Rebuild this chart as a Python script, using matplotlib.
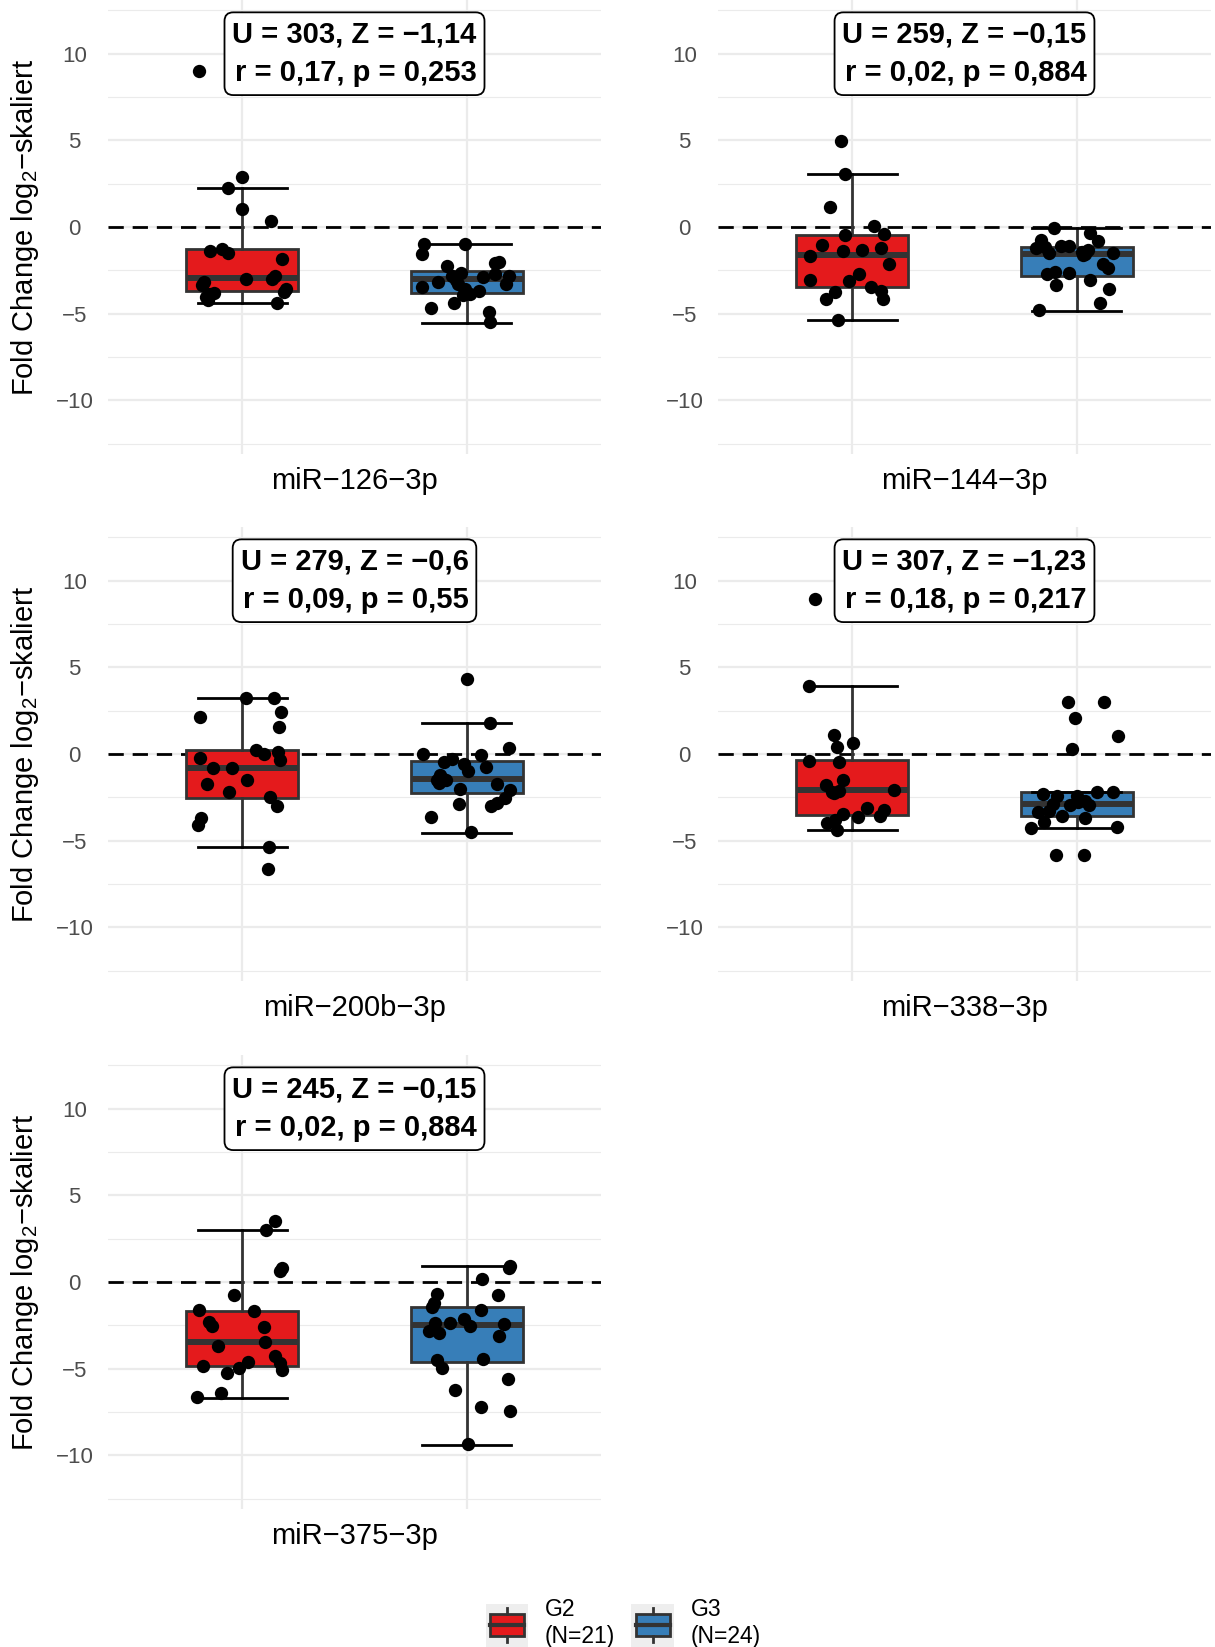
import numpy as np
import matplotlib
matplotlib.use('Agg')
import matplotlib.pyplot as plt
from matplotlib.patches import Rectangle, Patch
from matplotlib.lines import Line2D
from matplotlib.legend_handler import HandlerBase

plt.rcParams['font.family'] = ['Liberation Sans', 'DejaVu Sans']
plt.rcParams['mathtext.fontset'] = 'custom'
plt.rcParams['mathtext.rm'] = 'Liberation Sans'
plt.rcParams['mathtext.it'] = 'Liberation Sans:italic'
plt.rcParams['mathtext.default'] = 'regular'

# panels (x axis title) and test statistics
mirnas = ['miR\u2212126\u22123p', 'miR\u2212144\u22123p', 'miR\u2212200b\u22123p',
          'miR\u2212338\u22123p', 'miR\u2212375\u22123p']
u_vals = ['303', '259', '279', '307', '245']
z_vals = ['\u22121,14', '\u22120,15', '\u22120,6', '\u22121,23', '\u22120,15']
r_vals = ['0,17', '0,02', '0,09', '0,18', '0,02']
p_vals = ['0,253', '0,884', '0,55', '0,217', '0,884']

groups = ['G2\n(N=21)', 'G3\n(N=24)']
colors = ['#E41A1C', '#377EB8']

# boxplot statistics per panel
g2_lo  = [-4.37, -5.37, -5.38, -4.37, -6.67]
g2_q1  = [-3.69, -3.44, -2.52, -3.50, -4.87]
g2_med = [-2.92, -1.64, -0.81, -2.06, -3.48]
g2_q3  = [-1.29, -0.48, 0.25, -0.33, -1.65]
g2_hi  = [2.23, 3.03, 3.23, 3.90, 2.98]

g3_lo  = [-5.52, -4.83, -4.54, -4.27, -9.38]
g3_q1  = [-3.79, -2.84, -2.25, -3.60, -4.62]
g3_med = [-2.98, -1.54, -1.44, -2.88, -2.46]
g3_q3  = [-2.54, -1.14, -0.42, -2.19, -1.44]
g3_hi  = [-1.00, -0.04, 1.81, -2.17, 0.94]

# individual fold changes and their horizontal jitter
fc_126_g2 = [9.0, 2.88, 2.23, 1.06, 0.33, -1.37, -1.25, -1.5, -1.85, -3.0, -3.17,
             -3.0, -2.85, -3.79, -4.04, -4.23, -3.56, -3.75, -4.37, -3.37, -3.88]
jit_126_g2 = [-0.194, 0.0, -0.064, -0.004, 0.128, -0.145, -0.093, -0.063, 0.176, 0.018, -0.172,
              0.134, 0.146, -0.125, -0.161, -0.152, 0.194, 0.185, 0.154, -0.179, -0.149]
fc_126_g3 = [-1.0, -1.54, -1.0, -2.27, -2.02, -2.08, -2.65, -2.88, -2.81, -3.27, -2.69, -3.15,
             -2.85, -3.48, -3.27, -3.56, -3.85, -3.69, -3.94, -4.38, -4.67, -4.92, -5.5, -3.08]
jit_126_g3 = [-0.191, -0.2, -0.006, -0.085, 0.143, 0.125, -0.025, 0.072, 0.19, 0.175, 0.128, -0.127,
              -0.066, -0.199, -0.037, -0.007, 0.015, 0.054, -0.015, -0.055, -0.157, 0.1, 0.104, -0.045]

fc_144_g2 = [4.96, 3.03, 1.16, 0.06, -0.39, -0.48, -1.02, -1.66, -1.39, -1.35, -1.22,
             -2.12, -3.03, -3.09, -2.70, -3.44, -3.73, -4.17, -3.71, -4.15, -5.37]
jit_144_g2 = [-0.05, -0.035, -0.098, 0.097, 0.141, -0.032, -0.138, -0.189, -0.043, 0.041, 0.129,
              0.162, -0.189, -0.016, 0.028, 0.082, -0.079, -0.119, 0.129, 0.135, -0.065]
fc_144_g3 = [-0.04, -0.35, -0.83, -0.77, -1.22, -1.51, -1.12, -1.12, -1.45, -1.58, -1.51, -2.12,
             -2.36, -2.74, -2.61, -2.66, -3.05, -3.32, -3.57, -4.38, -4.81, -1.64, -1.16, -1.35]
jit_144_g3 = [-0.1, 0.059, 0.095, -0.157, -0.179, -0.125, -0.069, -0.032, 0.025, 0.037, 0.164, 0.119,
              0.142, -0.132, -0.095, -0.032, 0.062, -0.092, 0.144, 0.103, -0.166, 0.03, -0.14, 0.05]

fc_200b_g2 = [3.23, 3.23, 2.12, 2.40, 1.58, 0.25, 0.02, 0.12, -0.33, -0.23, -0.81,
              -0.83, -1.71, -1.52, -2.21, -2.48, -3.02, -3.67, -4.10, -5.37, -6.65]
jit_200b_g2 = [0.018, 0.142, -0.191, 0.17, 0.164, 0.06, 0.097, 0.157, 0.166, -0.191, -0.133,
               -0.048, -0.157, 0.019, -0.058, 0.122, 0.154, -0.187, -0.2, 0.119, 0.115]
fc_200b_g3 = [4.31, 1.81, 0.35, 0.02, -0.04, -0.27, -0.46, -0.56, -1.0, -0.75, -1.19, -1.48,
              -1.44, -1.52, -1.67, -1.71, -2.0, -2.10, -2.56, -2.83, -3.02, -2.90, -3.65, -4.52]
jit_200b_g3 = [0.003, 0.104, 0.19, -0.194, 0.064, -0.063, -0.101, -0.01, 0.007, 0.087, -0.119, -0.131,
               -0.104, -0.09, -0.122, 0.134, -0.03, 0.194, 0.172, 0.134, 0.107, -0.033, -0.157, 0.018]

fc_338_g2 = [8.96, 3.90, 1.10, 0.38, 0.65, -0.38, -0.46, -1.77, -1.52, -2.19, -2.12,
             -2.06, -3.46, -3.13, -3.65, -3.25, -3.60, -3.98, -3.79, -4.37, -2.25]
jit_338_g2 = [-0.169, -0.194, -0.081, -0.071, 0.001, -0.194, -0.06, -0.118, -0.04, -0.09, -0.062,
              0.184, -0.044, 0.063, 0.026, 0.14, 0.122, -0.115, -0.078, -0.069, -0.081]
fc_338_g3 = [2.98, 2.98, 2.06, 1.06, 0.29, -2.31, -2.44, -2.44, -2.17, -2.19, -2.87, -2.94,
             -2.69, -2.92, -3.33, -3.27, -3.60, -3.67, -3.94, -4.29, -4.23, -5.81, -5.81, -2.79]
jit_338_g3 = [-0.04, 0.122, -0.007, 0.184, -0.019, -0.151, -0.088, 0.0, 0.091, 0.162, -0.105, -0.029,
              0.037, 0.056, -0.172, -0.125, -0.066, 0.037, -0.144, -0.204, 0.179, -0.091, 0.034, 0.007]

fc_375_g2 = [3.5, 3.0, 0.79, 0.62, -0.75, -1.62, -1.67, -2.29, -2.52, -2.62, -3.71,
             -3.48, -4.25, -4.69, -5.06, -4.87, -4.62, -4.94, -5.25, -6.42, -6.65]
jit_375_g2 = [0.145, 0.107, 0.176, 0.167, -0.036, -0.193, 0.052, -0.149, -0.137, 0.097, -0.107,
              0.101, 0.146, 0.167, 0.176, -0.175, 0.024, -0.015, -0.07, -0.097, -0.201]
fc_375_g3 = [0.9, 0.79, 0.17, -0.75, -0.69, -1.21, -1.46, -1.6, -2.37, -2.38, -2.13, -2.56,
             -2.42, -2.83, -2.96, -3.1, -4.5, -4.96, -4.44, -5.6, -6.21, -7.23, -7.42, -9.35]
jit_375_g3 = [0.194, 0.19, 0.07, 0.142, -0.131, -0.145, -0.152, 0.064, -0.14, -0.072, -0.012, 0.015,
              0.169, -0.167, -0.122, 0.143, -0.134, -0.109, 0.075, 0.187, -0.052, 0.063, 0.194, 0.007]

points_g2 = [(fc_126_g2, jit_126_g2), (fc_144_g2, jit_144_g2), (fc_200b_g2, jit_200b_g2),
             (fc_338_g2, jit_338_g2), (fc_375_g2, jit_375_g2)]
points_g3 = [(fc_126_g3, jit_126_g3), (fc_144_g3, jit_144_g3), (fc_200b_g3, jit_200b_g3),
             (fc_338_g3, jit_338_g3), (fc_375_g3, jit_375_g3)]

W, H = 1215.0, 1647.0
fig = plt.figure(figsize=(W / 100, H / 100), dpi=100)

# panel frames in pixels: (left, top)
col_left = [108, 718]
row_top = [0, 527, 1055]
PW, PH = 493, 454

def px_axes(left, top):
    return fig.add_axes([left / W, 1 - (top + PH) / H, PW / W, PH / H])

box_edge = '#333333'

for i, name in enumerate(mirnas):
    ax = px_axes(col_left[i % 2], row_top[i // 2])
    ax.set_xlim(0.4, 2.6)
    ax.set_ylim(-13.1, 13.1)
    for s in ax.spines.values():
        s.set_visible(False)

    ax.set_yticks([-10, -5, 0, 5, 10])
    ax.set_yticklabels(['\u221210', '\u22125', '0', '5', '10'])
    ax.set_yticks([-12.5, -7.5, -2.5, 2.5, 7.5, 12.5], minor=True)
    ax.set_xticks([1, 2])
    ax.set_xticklabels(['', ''])
    ax.tick_params(axis='both', which='both', length=0)
    ax.tick_params(axis='y', labelsize=16, labelcolor='#4D4D4D', pad=24)
    for lab in ax.get_yticklabels():
        lab.set_horizontalalignment('center')
    ax.grid(True, which='major', color='#EBEBEB', lw=1.6, zorder=0)
    ax.grid(True, which='minor', axis='y', color='#EBEBEB', lw=0.8, zorder=0)
    ax.set_axisbelow(True)

    ax.axhline(0, color='black', lw=2.0, linestyle=(0, (5.5, 3.2)), zorder=1)

    g2 = dict(med=g2_med[i], q1=g2_q1[i], q3=g2_q3[i], whislo=g2_lo[i], whishi=g2_hi[i], fliers=[])
    g3 = dict(med=g3_med[i], q1=g3_q1[i], q3=g3_q3[i], whislo=g3_lo[i], whishi=g3_hi[i], fliers=[])
    ax.bxp([g2, g3], positions=[1, 2], widths=0.5, capwidths=0.4, patch_artist=True,
           showfliers=False, manage_ticks=False,
           boxprops=dict(edgecolor=box_edge, lw=2.0),
           medianprops=dict(color=box_edge, lw=4.3),
           whiskerprops=dict(color=box_edge, lw=2.0),
           capprops=dict(color='black', lw=2.0), zorder=2)
    for patch, c in zip(ax.patches, colors):
        patch.set_facecolor(c)

    for pos, (fc, jit) in zip([1, 2], [points_g2[i], points_g3[i]]):
        ax.scatter(pos + np.array(jit), fc, s=92, color='black', lw=0, zorder=4)

    ax.text(1.5, 10, 'U = %s, Z = %s\nr = %s, p = %s' % (u_vals[i], z_vals[i], r_vals[i], p_vals[i]),
            ha='center', va='center', multialignment='right', fontsize=21, fontweight='bold',
            linespacing=1.5, zorder=5,
            bbox=dict(boxstyle='round,pad=0.27,rounding_size=0.3', fc='white', ec='black', lw=1.3))

    ax.set_xlabel(name, fontsize=21, color='black')
    ax.xaxis.label.set_va('center')
    ax.xaxis.set_label_coords(0.5, -0.0595)
    if i % 2 == 0:
        ax.set_ylabel('Fold Change log$_2$\u2212skaliert', fontsize=21, color='black')
        ax.yaxis.label.set_va('center')
        ax.yaxis.set_label_coords(-0.168, 0.5)


class BoxKey(HandlerBase):
    def create_artists(self, legend, orig_handle, xdescent, ydescent, width, height, fontsize, trans):
        x0, y0 = -xdescent, -ydescent
        bg = Rectangle((x0, y0), width, height, fc='#EEEEEE', ec='none', transform=trans)
        box = Rectangle((x0 + 0.1 * width, y0 + 0.24 * height), 0.8 * width, 0.52 * height,
                        fc=orig_handle.get_facecolor(), ec=box_edge, lw=2.0, transform=trans)
        cx = x0 + width / 2
        w_top = Line2D([cx, cx], [y0 + 0.76 * height, y0 + 0.9 * height], color=box_edge, lw=2.0, transform=trans)
        w_bot = Line2D([cx, cx], [y0 + 0.1 * height, y0 + 0.24 * height], color=box_edge, lw=2.0, transform=trans)
        med = Line2D([x0 + 0.1 * width, x0 + 0.9 * width], [y0 + 0.5 * height] * 2, color=box_edge, lw=3.0,
                     transform=trans)
        return [bg, box, w_top, w_bot, med]


handles = [Patch(facecolor=c) for c in colors]
fig.legend(handles, groups, loc='lower center', bbox_to_anchor=(0.513, -0.009), ncol=2, frameon=False,
           fontsize=16.5, handler_map={Patch: BoxKey()}, handlelength=1.85, handleheight=2.5,
           handletextpad=0.75, columnspacing=0.7, borderpad=0.1, labelspacing=0.2)

fig.savefig('out.png', dpi=100)
